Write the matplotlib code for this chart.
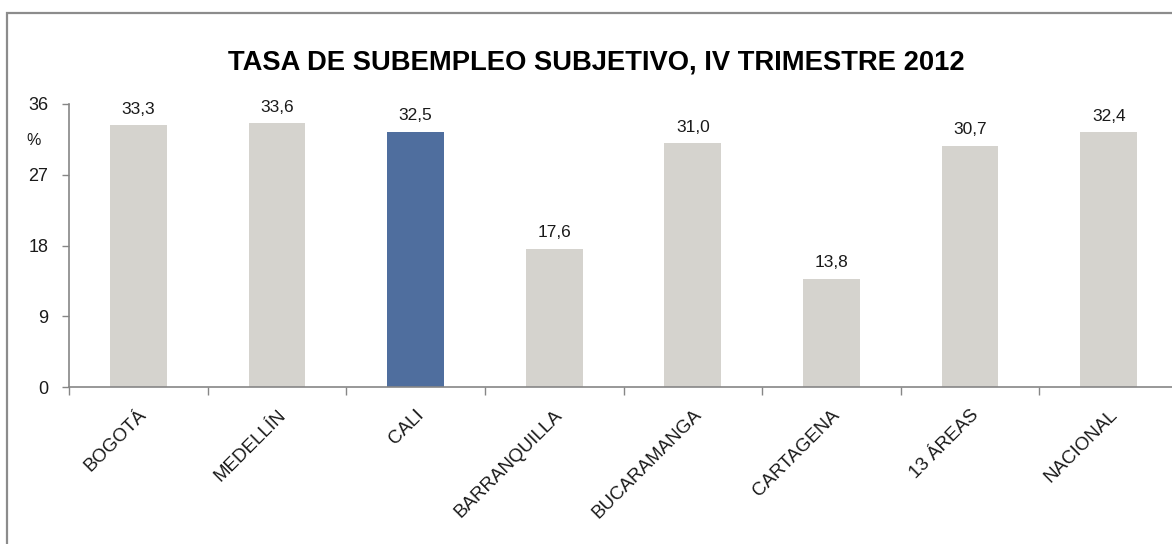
import numpy as np
import matplotlib.pyplot as plt
from matplotlib.patches import Rectangle

categorias = ['BOGOTÁ', 'MEDELLÍN', 'CALI', 'BARRANQUILLA', 'BUCARAMANGA',
              'CARTAGENA', '13 ÁREAS', 'NACIONAL']
tasas = [33.3, 33.6, 32.5, 17.6, 31.0, 13.8, 30.7, 32.4]
destacado = 'CALI'
y_ticks = [0, 9, 18, 27, 36]
titulo = 'TASA DE SUBEMPLEO SUBJETIVO, IV TRIMESTRE 2012'

plt.rcParams['font.family'] = ['Liberation Sans', 'DejaVu Sans']

W, H = 1172, 544
fig = plt.figure(figsize=(W / 100, H / 100), dpi=100)

# marco gris alrededor del grafico (recortado a la derecha y abajo)
fig.patches.append(Rectangle((7 / W, -0.1), 1.2, (H - 13) / H + 0.1,
                             transform=fig.transFigure, fill=False,
                             edgecolor='#8c8c8c', lw=1.6))

# ejes: el eje x sale por la derecha de la imagen
x0, x1 = 69, 1178
y0, y1 = 387, 104
ax = fig.add_axes([x0 / W, (H - y0) / H, (x1 - x0) / W, (y0 - y1) / H])

x = np.arange(len(categorias))
colores = ['#4f6e9e' if c == destacado else '#d5d3ce' for c in categorias]
ax.bar(x, tasas, width=0.41, color=colores)

for xi, v in zip(x, tasas):
    ax.annotate(f'{v:.1f}'.replace('.', ','), (xi, v), xytext=(0, 6),
                textcoords='offset points', ha='center', va='bottom',
                fontsize=12.5, color='#1a1a1a')

ax.set_xlim(-0.5, len(categorias) - 0.5)
ax.set_ylim(0, 36)
ax.set_yticks(y_ticks)
ax.tick_params(axis='y', labelsize=13, colors='#868686', labelcolor='#1a1a1a',
               length=5, width=1, pad=10)

# marcas del eje x en los limites de cada categoria, etiquetas en el centro
ax.set_xticks(np.arange(len(categorias) + 1) - 0.5, minor=True)
ax.set_xticks(x)
ax.set_xticklabels(categorias, rotation=45, ha='right', rotation_mode='anchor',
                   fontsize=13.5, color='#1a1a1a')
ax.tick_params(axis='x', which='major', length=0, pad=14)
ax.tick_params(axis='x', which='minor', length=6, width=1, colors='#868686')

for s in ['top', 'right']:
    ax.spines[s].set_visible(False)
for s in ['left', 'bottom']:
    ax.spines[s].set_color('#868686')
    ax.spines[s].set_linewidth(1.2)

ax.text(-0.032, 31.4, '%', transform=ax.get_yaxis_transform(), ha='center',
        va='center', fontsize=11.5, color='#1a1a1a')

fig.text(596 / W, 1 - 62 / H, titulo, ha='center', va='center',
         fontsize=19.7, fontweight='bold', color='black')

fig.savefig('out.png', dpi=100)
